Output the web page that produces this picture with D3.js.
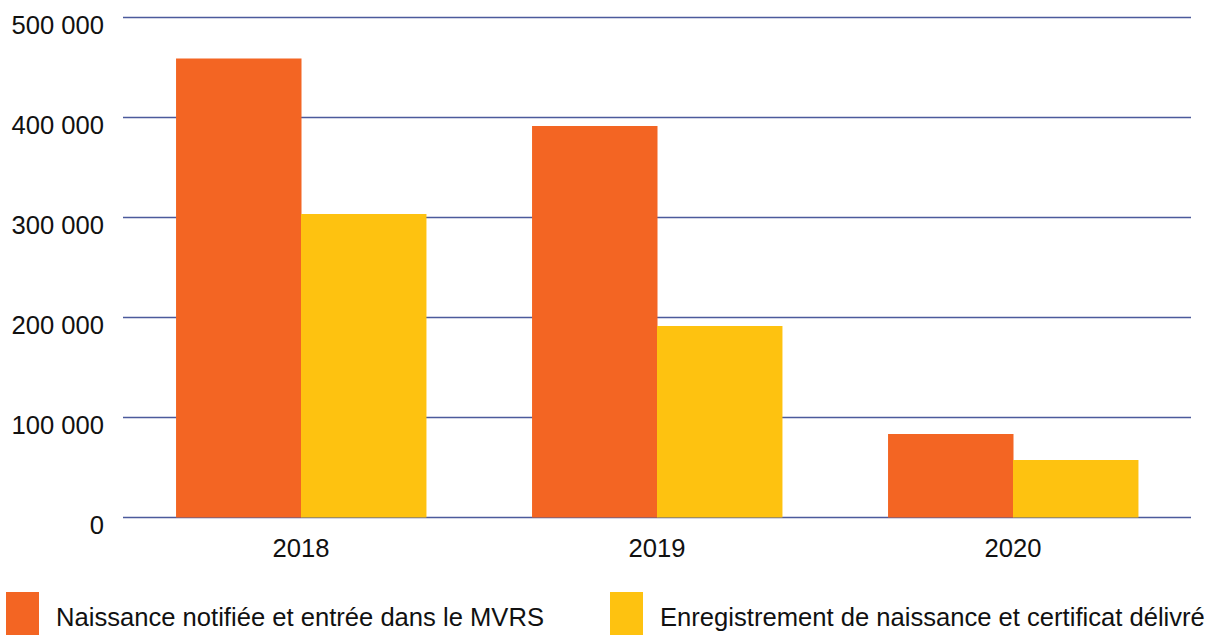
<!DOCTYPE html>
<html lang="fr">
<head>
    <meta charset="UTF-8">
    <title>Naissances notifiées et enregistrées</title>
    <script src="https://d3js.org/d3.v7.min.js"></script>
    <style>
        body { margin: 0; background: #fff; }
        svg text {
            font-family: "Liberation Sans", Arial, Helvetica, sans-serif;
            font-size: 25.6px;
            fill: #111;
        }
        .grid line { stroke: #4b5a9c; stroke-width: 1.6px; }
    </style>
</head>
<body>
<svg id="chart" width="1222" height="635"></svg>

<script>
    // données
    const years = ["2018", "2019", "2020"];
    const notified = [459000, 391500, 83500];
    const registered = [303500, 191500, 57500];
    const seriesNames = [
        "Naissance notifiée et entrée dans le MVRS",
        "Enregistrement de naissance et certificat délivré"
    ];
    const colors = ["#f36523", "#fec210"];
    const yTicks = [0, 100000, 200000, 300000, 400000, 500000];

    const svg = d3.select("#chart");
    const plotLeft = 123, plotRight = 1191, plotTop = 17.5, plotBottom = 517.5;

    const x = d3.scaleBand().domain(years).range([plotLeft, plotRight])
        .paddingInner(0.298).paddingOuter(0.149);
    const xs = d3.scaleBand().domain([0, 1]).range([0, x.bandwidth()]);
    const y = d3.scaleLinear().domain([0, 500000]).range([plotBottom, plotTop]);

    const fmt = v => d3.format(",")(v).replace(/,/g, " ");

    // lignes de grille
    const grid = svg.append("g").attr("class", "grid");
    grid.selectAll("line").data(yTicks).join("line")
        .attr("x1", plotLeft).attr("x2", plotRight)
        .attr("y1", d => y(d)).attr("y2", d => y(d));

    // barres
    const rows = years.map((yr, i) => ({ year: yr, vals: [notified[i], registered[i]] }));
    const groups = svg.append("g").selectAll("g").data(rows).join("g")
        .attr("transform", d => `translate(${x(d.year)},0)`);
    groups.selectAll("rect").data(d => d.vals).join("rect")
        .attr("x", (d, i) => xs(i))
        .attr("width", xs.bandwidth() + 0.5)
        .attr("y", d => y(d))
        .attr("height", d => y(0) - y(d))
        .attr("fill", (d, i) => colors[i]);

    // axe y
    svg.append("g").selectAll("text").data(yTicks).join("text")
        .attr("x", 104).attr("y", d => y(d) + 16)
        .attr("text-anchor", "end")
        .text(fmt);

    // axe x
    svg.append("g").selectAll("text").data(years).join("text")
        .attr("x", d => x(d) + x.bandwidth() / 2).attr("y", 557)
        .attr("text-anchor", "middle")
        .text(d => d);

    // légende
    const legX = [6, 610];
    const leg = svg.append("g").selectAll("g").data(seriesNames).join("g")
        .attr("transform", (d, i) => `translate(${legX[i]},592)`);
    leg.append("rect").attr("width", 33).attr("height", 43)
        .attr("fill", (d, i) => colors[i]);
    leg.append("text").attr("x", 50).attr("y", 34).text(d => d);
</script>
</body>
</html>
